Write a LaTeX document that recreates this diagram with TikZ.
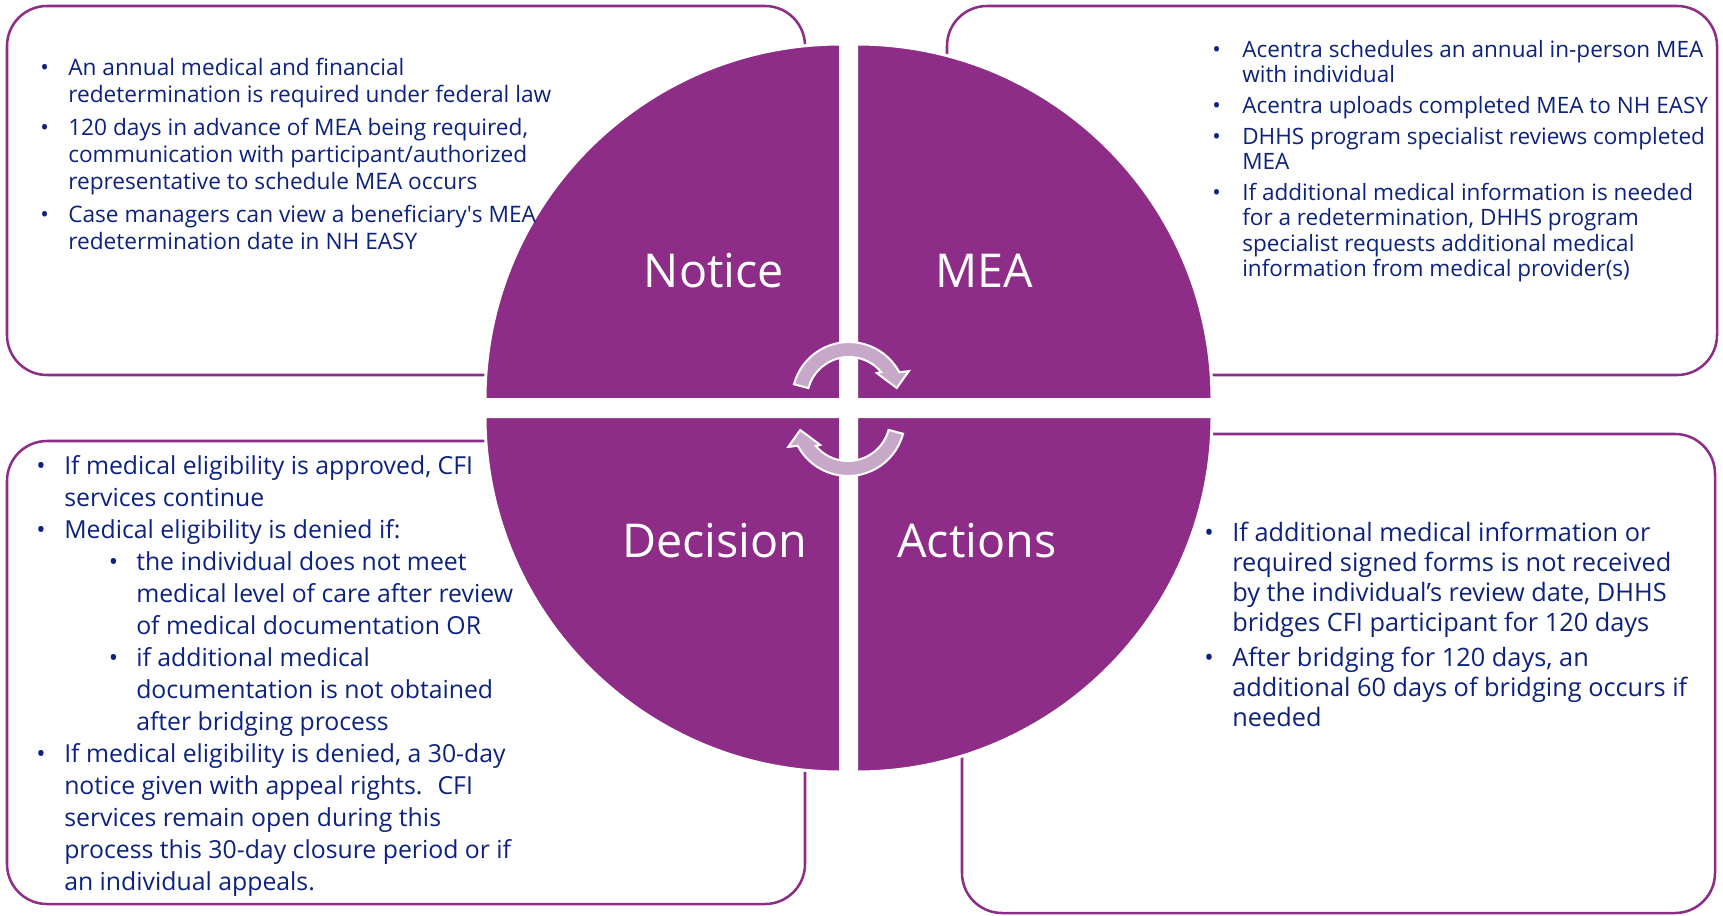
\documentclass[tikz,border=0pt]{standalone}
\usepackage{fontspec}
\setmainfont{Open Sans}
\definecolor{cfipurple}{RGB}{142,45,135}
\definecolor{cfinavy}{RGB}{12,34,124}
\definecolor{cfililac}{RGB}{200,168,200}
\newcommand{\subbul}{\hspace*{33.4pt}\makebox[20.6pt][l]{\textbullet}}
\newcommand{\subgap}{\hspace*{54pt}}

\begin{document}
\begin{tikzpicture}[x=0.75pt, y=-0.75pt,
   panel/.style={draw=cfipurple, line width=1.9pt, rounded corners=30pt},
   quad/.style={fill=cfipurple, draw=white, line width=2.25pt},
   quadlabel/.style={text=white, font=\fontsize{35}{40}\selectfont, anchor=base, inner sep=0pt},
   bullets/.style={text=cfinavy, anchor=base west, inner sep=0pt},
   cyclearrow/.style={fill=cfililac, draw=white, line width=1.5pt, line join=miter}]
\useasboundingbox (0,0) rectangle (1723,915);
%
       \draw [panel] (7,6) rectangle (805,375);
          \draw [panel] (947,6) rectangle (1717,375);
             \draw [panel] (7,441) rectangle (805,904);
              \draw [panel] (962,434) rectangle (1715,913);
%
  \path [quad] (840.5,399.5) -- ++(-355.5,0) arc[start angle=180, end angle=270, radius=355.5] -- cycle;
  \path [quad] (856.5,399.5) -- ++(0,-355.5) arc[start angle=270, end angle=360, radius=355.5] -- cycle;
  \path [quad] (840.5,416.5) -- ++(0,355.5) arc[start angle=90, end angle=180, radius=355.5] -- cycle;
  \path [quad] (856.5,416.5) -- ++(355.5,0) arc[start angle=0, end angle=90, radius=355.5] -- cycle;
%
       \node [quadlabel] at (714,287) (notice) {Notice};
          \node [quadlabel] at (984,287) (mea) {MEA};
             \node [quadlabel] at (715,557) (decision) {Decision};
              \node [quadlabel] at (977,557) (actions) {Actions};
%
\begin{scope}[shift={(849,399)}]
  \filldraw [cyclearrow] (195:57) arc[start angle=195, end angle=332, radius=57] -- (335:66) -- (347:49) -- (317:38) -- (320:42) arc[start angle=320, end angle=195, radius=42] -- cycle;
\end{scope}
\begin{scope}[shift={(848,419)}]
  \filldraw [cyclearrow] (15:57) arc[start angle=15, end angle=152, radius=57] -- (155:66) -- (167:49) -- (137:38) -- (140:42) arc[start angle=140, end angle=15, radius=42] -- cycle;
\end{scope}
%
\node [bullets, font=\fontsize{17}{20.25}\selectfont] at (40,75) (noticetext) {%
\begin{tabular}[t]{@{}p{21pt}@{}l@{}}
\textbullet & An annual medical and financial\\
 & redetermination is required under federal law\\[4.5pt]
\textbullet & 120 days in advance of MEA being required,\\
 & communication with participant/authorized\\
 & representative to schedule MEA occurs\\[4.5pt]
\textbullet & Case managers can view a beneficiary\textquotesingle s MEA\\
 & redetermination date in NH EASY
\end{tabular}};
%
\node [bullets, font=\fontsize{16.9}{19.1}\selectfont] at (1212,57) (meatext) {%
\begin{tabular}[t]{@{}p{22.5pt}@{}l@{}}
\textbullet & Acentra schedules an annual in-person MEA\\
 & with individual\\[4pt]
\textbullet & Acentra uploads completed MEA to NH EASY\\[4pt]
\textbullet & DHHS program specialist reviews completed\\
 & MEA\\[4pt]
\textbullet & If additional medical information is needed\\
 & for a redetermination, DHHS program\\
 & specialist requests additional medical\\
 & information from medical provider(s)
\end{tabular}};
%
\node [bullets, font=\fontsize{18.6}{24}\selectfont] at (36,474) (decisiontext) {%
\begin{tabular}[t]{@{}p{21pt}@{}l@{}}
\textbullet & If medical eligibility is approved, CFI\\
 & services continue\\
\textbullet & Medical eligibility is denied if:\\
 & \subbul the individual does not meet\\
 & \subgap medical level of care after review\\
 & \subgap of medical documentation OR\\
 & \subbul if additional medical\\
 & \subgap documentation is not obtained\\
 & \subgap after bridging process\\
\textbullet & If medical eligibility is denied, a 30-day\\
 & notice given with appeal rights.~ CFI\\
 & services remain open during this\\
 & process this 30-day closure period or if\\
 & an individual appeals.
\end{tabular}};
%
\node [bullets, font=\fontsize{19}{22.5}\selectfont] at (1204,541) (actionstext) {%
\begin{tabular}[t]{@{}p{21pt}@{}l@{}}
\textbullet & If additional medical information or\\
 & required signed forms is not received\\
 & by the individual’s review date, DHHS\\
 & bridges CFI participant for 120 days\\[3.75pt]
\textbullet & After bridging for 120 days, an\\
 & additional 60 days of bridging occurs if\\
 & needed
\end{tabular}};

\end{tikzpicture}
\end{document}
